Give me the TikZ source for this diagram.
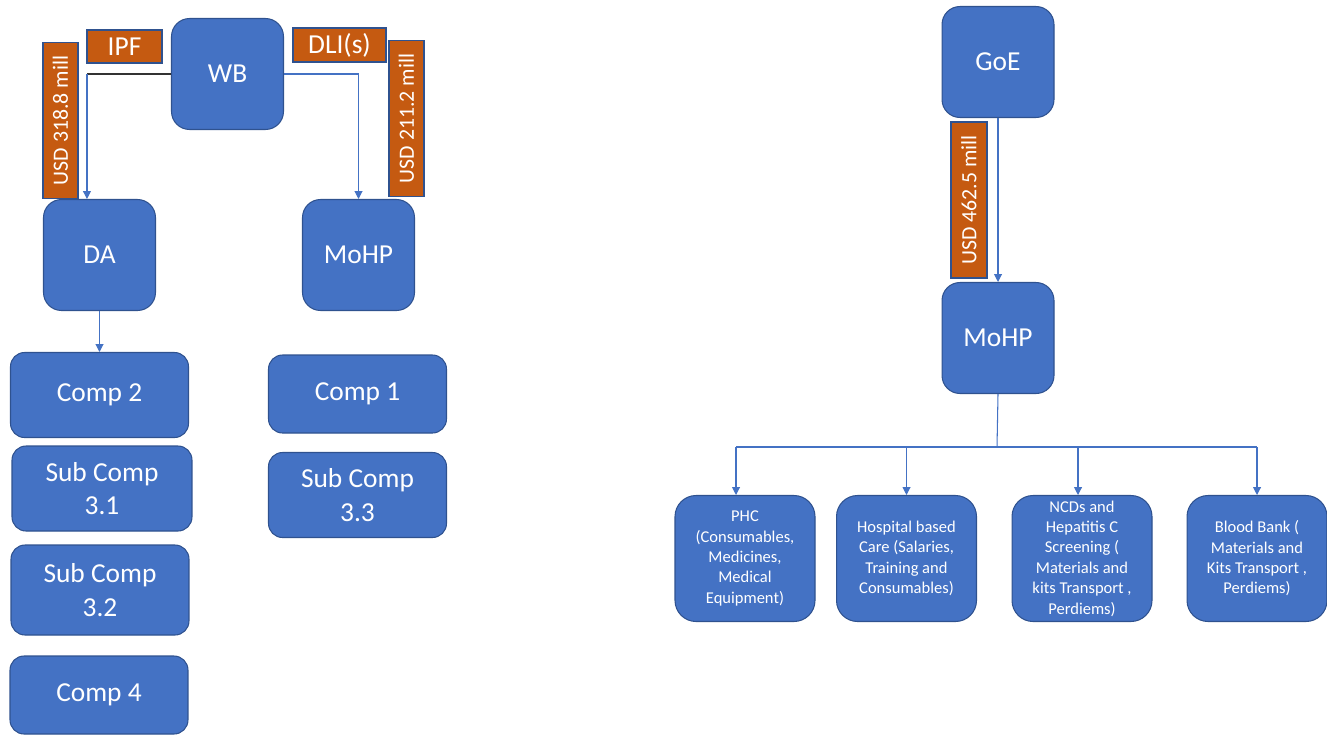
\documentclass[tikz,border=0pt]{standalone}
\usepackage{fontspec}
\setmainfont{Carlito}
\usepackage{xcolor}
\usepackage{tikz}
\usetikzlibrary{positioning,calc,arrows.meta}

\definecolor{boxblue}{HTML}{4472C4}
\definecolor{boxline}{HTML}{2F528F}
\definecolor{tagorange}{HTML}{C55A11}

\tikzset{
    box/.style={draw=boxline, line width=0.6pt, fill=boxblue, text=white, align=center, inner sep=1pt,
        rounded corners=0.36cm, font=\fontsize{15.6}{19}\selectfont},
    sq/.style={box, minimum width=2.24cm, minimum height=2.22cm},
    comp/.style={box, rounded corners=0.28cm, minimum width=3.56cm, minimum height=1.7cm},
    leaf/.style={box, rounded corners=0.42cm, minimum width=2.8cm, minimum height=2.52cm,
        font=\fontsize{9.4}{11.6}\selectfont},
    tag/.style={draw=boxline, line width=0.6pt, fill=tagorange, text=white, inner sep=0pt},
    vtag/.style={tag, rotate=90, minimum width=3.12cm, minimum height=0.7cm, font=\fontsize{12.4}{14}\selectfont},
    link/.style={draw=boxblue, line width=0.6pt, -{Triangle[width=4.5pt,length=4.5pt]}},
    bar/.style={draw=boxblue, line width=0.6pt}
}

\begin{document}
\begin{tikzpicture}[x=0.02cm, y=-0.02cm]
    \useasboundingbox (0,0) rectangle (1327,734);

    % World Bank side
    \node [sq] (wb) at (227.5,74) {WB};
    \node [sq] (da) at (99.5,255) {DA};
    \node [sq] (mohpa) at (358.5,255) {MoHP};
    \node [tag, minimum width=1.5cm, minimum height=0.66cm, font=\fontsize{15.6}{19}\selectfont] (ipf) at (124.5,46.5) {IPF};
    \node [tag, minimum width=1.86cm, minimum height=0.68cm, font=\fontsize{15.6}{19}\selectfont] (dli) at (339.5,45) {DLI(s)};
    \node [vtag] (usda) at (60.5,120.5) {USD 318.8 mill};
    \node [vtag] (usdb) at (406.5,118.5) {USD 211.2 mill};

    \node [comp] (comp2) at (99.5,395) {Comp 2};
    \node [comp, minimum width=3.6cm] (sub31) at (102,488.5) {Sub Comp\\3.1};
    \node [comp, minimum height=1.8cm] (sub32) at (100,590) {Sub Comp\\3.2};
    \node [comp, minimum height=1.56cm] (comp4) at (99,695) {Comp 4};
    \node [comp, minimum height=1.56cm] (comp1) at (357.5,394) {Comp 1};
    \node [comp] (sub33) at (357.5,495) {Sub Comp\\3.3};

    \coordinate (dain) at ([xshift=0.88cm]da.north west);
    \draw [gray!40!black, line width=0.6pt] (wb.west) -- (wb.west -| dain); % IPF flow
    \draw [link] (wb.west -| dain) -- (dain);
    \draw [link] (wb.east) -| (mohpa.north); % DLI flow
    \draw [link] (da.south) -- (comp2.north);

    % Government side
    \node [sq] (goe) at (998,62) {GoE};
    \node [sq] (mohpb) at (998,338) {MoHP};
    \node [vtag, minimum height=0.72cm] (usdc) at (969,200) {USD 462.5 mill};
    \draw [link] (goe.south) -- (mohpb.north);

    \node [leaf] (phc) at (745,558.5) {PHC\\(Consumables,\\Medicines,\\Medical\\Equipment)};
    \node [leaf] (hosp) at (906.5,558.5) {Hospital based\\Care (Salaries,\\Training and\\Consumables)};
    \node [leaf] (ncd) at (1082,558.5) {NCDs and\\Hepatitis C\\Screening (\\Materials and\\kits Transport ,\\Perdiems)};
    \node [leaf] (blood) at (1257,558.5) {Blood Bank (\\Materials and\\Kits Transport ,\\Perdiems)};

    \coordinate (bus) at (997,447);
    \coordinate (phcin) at ([xshift=-0.18cm]phc.north);
    \coordinate (ncdin) at ([xshift=-0.08cm]ncd.north);
    \draw [bar] (mohpb.south) -- (bus);
    \draw [bar] (bus -| phcin) -- (bus -| blood.north);
    \foreach \t in {phcin, hosp.north, ncdin, blood.north}
        \draw [link] (bus -| \t) -- (\t);
\end{tikzpicture}
\end{document}
